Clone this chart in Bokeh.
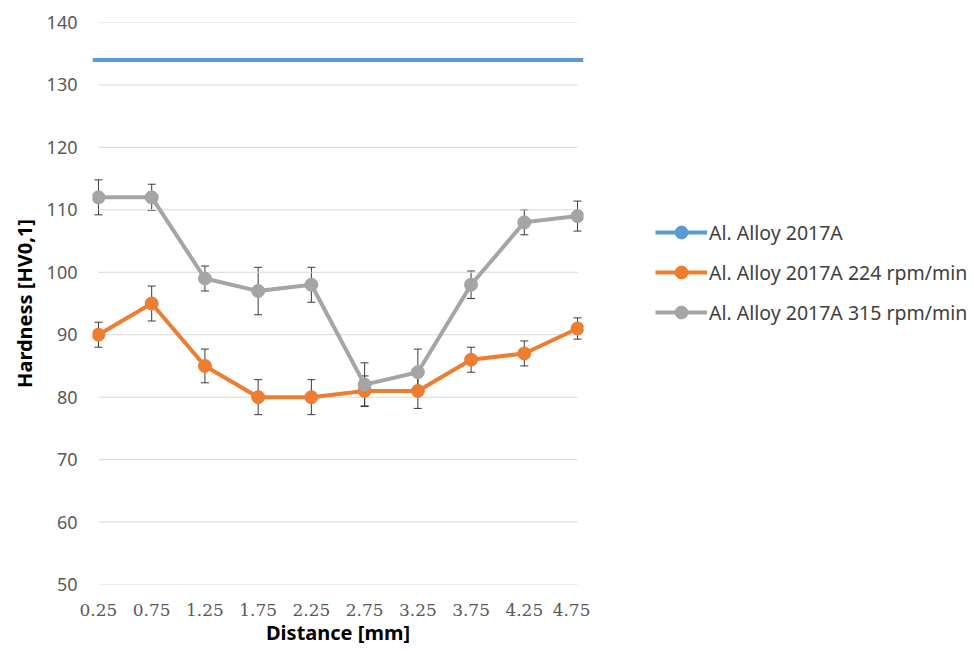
from bokeh.plotting import figure
from bokeh.layouts import row
from bokeh.models import (Range1d, FixedTicker, Whisker, TeeHead, ColumnDataSource,
                          Legend, LegendItem, Span)
from bokeh.embed import file_html
from bokeh.resources import INLINE

# ---- data ----
distances = [0.25, 0.75, 1.25, 1.75, 2.25, 2.75, 3.25, 3.75, 4.25, 4.75]
distance_labels = ["0.25", "0.75", "1.25", "1.75", "2.25", "2.75", "3.25", "3.75", "4.25", "4.75"]
base_hardness = 134
hv_224 = [90, 95, 85, 80, 80, 81, 81, 86, 87, 91]
err_224 = [2.0, 2.8, 2.7, 2.8, 2.8, 2.4, 2.8, 2.0, 2.0, 1.7]
hv_315 = [112, 112, 99, 97, 98, 82, 84, 98, 108, 109]
err_315 = [2.8, 2.1, 2.0, 3.8, 2.8, 3.5, 3.7, 2.2, 2.0, 2.4]
y_ticks = [50, 60, 70, 80, 90, 100, 110, 120, 130, 140]
series_names = ["Al. Alloy 2017A", "Al. Alloy 2017A 224 rpm/min", "Al. Alloy 2017A 315 rpm/min"]

BLUE = "#5B9BD5"
ORANGE = "#ED7D31"
GRAY = "#A5A5A5"
COLORS = [BLUE, ORANGE, GRAY]

H = 648
p = figure(width=590, height=H, x_range=Range1d(0.194, 4.806), y_range=Range1d(50, 140),
           output_backend="svg", toolbar_location=None,
           min_border_left=92, min_border_right=7, min_border_top=22, min_border_bottom=64)
p.outline_line_color = None
p.grid.visible = False
p.background_fill_color = "white"
p.border_fill_color = "white"

# gridlines spanning the category positions
p.segment(x0=distances[0], x1=distances[-1], y0=y_ticks, y1=y_ticks,
          line_color="#D9D9D9", line_width=1)

# base alloy (constant hardness across the whole axis)
p.add_layout(Span(location=base_hardness, dimension="width", line_color=BLUE, line_width=4))
p.line(distances, [base_hardness] * len(distances), line_color=BLUE, line_width=4)

# 224 rpm
p.line(distances, hv_224, line_color=ORANGE, line_width=4)
p.scatter(distances, hv_224, size=13, fill_color=ORANGE, line_color=ORANGE)

# 315 rpm
p.line(distances, hv_315, line_color=GRAY, line_width=4)
p.scatter(distances, hv_315, size=13, fill_color=GRAY, line_color=GRAY)

# error bars
for vals, errs in ((hv_224, err_224), (hv_315, err_315)):
    src = ColumnDataSource(dict(x=distances,
                                lower=[v - e for v, e in zip(vals, errs)],
                                upper=[v + e for v, e in zip(vals, errs)]))
    w = Whisker(base="x", lower="lower", upper="upper", source=src,
                line_color="#3A3A3A", line_width=1,
                upper_head=TeeHead(size=8, line_color="#3A3A3A", line_width=1),
                lower_head=TeeHead(size=8, line_color="#3A3A3A", line_width=1))
    p.add_layout(w)

# axes
xa = p.xaxis[0]
xa.ticker = FixedTicker(ticks=distances)
xa.major_label_overrides = {d: l for d, l in zip(distances, distance_labels)}
xa.axis_line_color = None
xa.major_tick_line_color = None
xa.minor_tick_line_color = None
xa.major_label_text_font = "DejaVu Serif"
xa.major_label_text_font_size = "17px"
xa.major_label_text_color = "#595959"
xa.major_label_standoff = 13
xa.axis_label = "Distance [mm]"
xa.axis_label_text_font = "Noto Sans"
xa.axis_label_text_font_style = "bold"
xa.axis_label_text_font_size = "20px"
xa.axis_label_text_color = "#000000"
xa.axis_label_standoff = 0

ya = p.yaxis[0]
ya.ticker = FixedTicker(ticks=y_ticks)
ya.axis_line_color = None
ya.major_tick_line_color = None
ya.minor_tick_line_color = None
ya.major_label_text_font = "Noto Sans"
ya.major_label_text_font_size = "18px"
ya.major_label_text_color = "#595959"
ya.major_label_standoff = 9
ya.axis_label = "Hardness [HV0,1]"
ya.axis_label_text_font = "Noto Sans"
ya.axis_label_text_font_style = "bold"
ya.axis_label_text_font_size = "20px"
ya.axis_label_text_color = "#000000"
ya.axis_label_standoff = 6

# ---- legend panel (separate figure to the right of the chart) ----
lg = figure(width=381, height=H, x_range=Range1d(0, 1), y_range=Range1d(0, 1),
            output_backend="svg", toolbar_location=None, title=None,
            x_axis_location=None, y_axis_location=None, min_border=0)
lg.outline_line_color = None
lg.grid.visible = False
items = []
nan_vals = [float("nan")] * len(distances)
for name, col in zip(series_names, COLORS):
    r_line = lg.line(distances, nan_vals, line_color=col, line_width=4)
    r_mark = lg.scatter(distances, nan_vals, size=12, fill_color=col, line_color=col)
    items.append(LegendItem(label=name, renderers=[r_line, r_mark]))

legend = Legend(items=items, location=(65, 256), glyph_width=52, glyph_height=32,
                label_height=32, spacing=8, padding=0, margin=0, label_standoff=2,
                border_line_color=None, background_fill_alpha=0,
                label_text_font="Noto Sans", label_text_font_size="19.5px",
                label_text_color="#404040")
lg.add_layout(legend)

layout = row(p, lg)
open("out.html", "w").write(file_html(layout, INLINE))
